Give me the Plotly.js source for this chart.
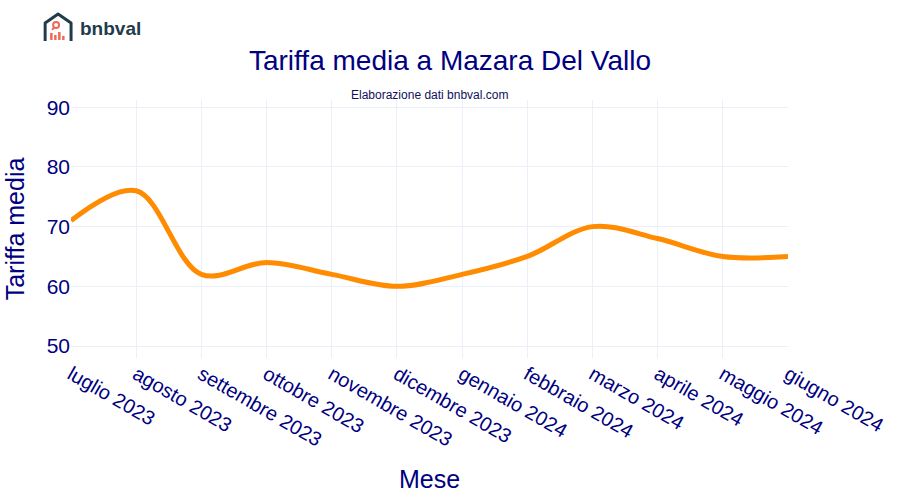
<!DOCTYPE html>
<html>
<head>
<meta charset="utf-8">
<script src="https://cdn.plot.ly/plotly-3.0.1.min.js"></script>
<style>
  body { margin: 0; background: #fff; }
  #chart { width: 900px; height: 500px; }
</style>
</head>
<body>
<div id="chart"></div>
<script>
const mesi = ["luglio 2023", "agosto 2023", "settembre 2023", "ottobre 2023", "novembre 2023", "dicembre 2023",
    "gennaio 2024", "febbraio 2024", "marzo 2024", "aprile 2024", "maggio 2024", "giugno 2024"]
const tariffa = [71, 76, 62, 64, 62, 60, 62, 65, 70, 68, 65, 65]

const chartDiv = document.getElementById("chart")

// logo: little house with bars, as an inline svg
const logoSvg = '<svg xmlns="http://www.w3.org/2000/svg" width="30" height="30" viewBox="0 0 30 30">' +
    '<path d="M2 29 V11 L15 2 L28 11 V29" fill="none" stroke="#1f3b4d" stroke-width="3" stroke-linejoin="round"/>' +
    '<circle cx="13" cy="13" r="3" fill="none" stroke="#ee6a55" stroke-width="2"/>' +
    '<line x1="11" y1="15.5" x2="9" y2="18" stroke="#ee6a55" stroke-width="2"/>' +
    '<rect x="7" y="21" width="2.5" height="7" fill="#ee6a55"/>' +
    '<rect x="11" y="23" width="2.5" height="5" fill="#ee6a55"/>' +
    '<rect x="15" y="20" width="2.5" height="8" fill="#ee6a55"/>' +
    '<rect x="19" y="24" width="2.5" height="4" fill="#ee6a55"/>' +
    '</svg>'

let trace = {
    x: mesi,
    y: tariffa,
    type: "scatter",
    mode: "lines",
    line: { color: "#ff8c00", width: 5, shape: "spline" },
    hoverinfo: "x+y"
}

let layout = {
    width: 900,
    height: 500,
    margin: { l: 71, r: 112, t: 100, b: 142 },
    paper_bgcolor: "white",
    plot_bgcolor: "white",
    font: { family: "Arial, Liberation Sans, sans-serif", color: "navy" },
    title: {
        text: "Tariffa media a Mazara Del Vallo",
        font: { size: 28, color: "navy" },
        x: 0.5, xanchor: "center",
        y: 0.88, yanchor: "middle"
    },
    xaxis: {
        title: { text: "Mese", font: { size: 25 }, standoff: 20 },
        tickangle: 30,
        tickfont: { size: 20 },
        showgrid: true,
        gridcolor: "#ebf0f8",
        range: [0, 11],
        zeroline: false,
        ticks: ""
    },
    yaxis: {
        title: { text: "Tariffa media", font: { size: 25 }, standoff: 14 },
        tickfont: { size: 21 },
        range: [48, 91.2],
        tickvals: [50, 60, 70, 80, 90],
        gridcolor: "#ebf0f8",
        zeroline: false,
        ticks: ""
    },
    annotations: [{
        text: "Elaborazione dati bnbval.com",
        xref: "paper", yref: "paper",
        x: 0.5, y: 1.0,
        xanchor: "center", yanchor: "bottom",
        yshift: -4,
        showarrow: false,
        font: { size: 12, color: "#10105a" }
    }, {
        text: "<b>bnbval</b>",
        xref: "paper", yref: "paper",
        x: 0.0098, y: 1.279,
        xanchor: "left", yanchor: "middle",
        showarrow: false,
        font: { size: 19, color: "#1f3b4d" }
    }],
    images: [{
        source: "data:image/svg+xml;charset=utf-8," + encodeURIComponent(logoSvg),
        xref: "paper", yref: "paper",
        x: -0.039, y: 1.341,
        sizex: 0.042, sizey: 0.116,
        xanchor: "left", yanchor: "top",
        layer: "above"
    }],
    showlegend: false
}

let config = { responsive: false, displayModeBar: false }

Plotly.newPlot(chartDiv, [trace], layout, config)
</script>
</body>
</html>
